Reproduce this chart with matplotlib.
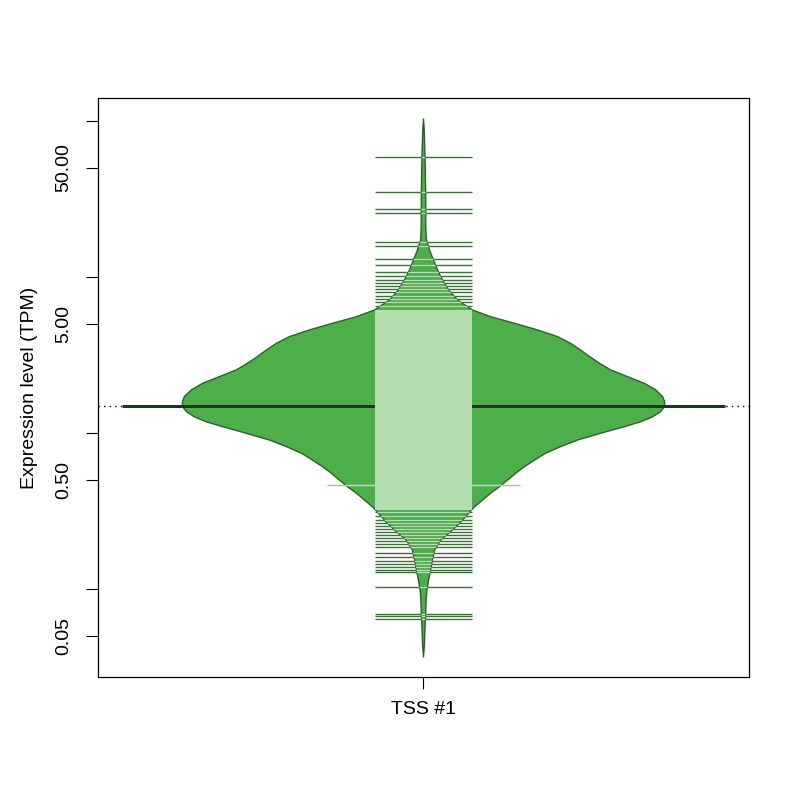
import numpy as np
import matplotlib.pyplot as plt
from matplotlib.patches import Polygon

plt.rcParams["font.family"] = ["Liberation Sans", "DejaVu Sans"]

# ---- data ----
group_label = "TSS #1"
average_tpm = 1.49

# bean outline: TPM level and half-width as share of the widest point
density_tpm = [103.1, 87.6, 70.2, 48.6, 33.6, 20.6, 17.3, 14.9, 12.9, 11.1,
               9.57, 8.26, 7.12, 6.15, 5.57, 5.05, 4.58, 4.15, 3.76, 3.41,
               3.09, 2.80, 2.54, 2.30, 2.08, 1.89, 1.71, 1.59, 1.48, 1.37,
               1.27, 1.18, 1.10, 0.996, 0.902, 0.818, 0.742, 0.672, 0.609,
               0.552, 0.500, 0.453, 0.411, 0.372, 0.337, 0.321, 0.277, 0.239,
               0.206, 0.178, 0.154, 0.132, 0.114, 0.0986, 0.0851, 0.0682,
               0.0546, 0.0438, 0.0367]
density_width = [0.0, 0.003, 0.005, 0.0075, 0.009, 0.0095, 0.012, 0.025, 0.041,
                 0.058, 0.079, 0.104, 0.141, 0.203, 0.278, 0.378, 0.473, 0.556,
                 0.610, 0.651, 0.689, 0.730, 0.776, 0.846, 0.917, 0.963, 0.992,
                 1.0, 1.0, 0.983, 0.950, 0.900, 0.834, 0.734, 0.639, 0.568,
                 0.506, 0.461, 0.419, 0.382, 0.349, 0.315, 0.278, 0.245, 0.212,
                 0.199, 0.162, 0.120, 0.071, 0.046, 0.037, 0.029, 0.021, 0.014,
                 0.011, 0.0087, 0.0058, 0.0037, 0.0]

# single observations (bean lines) in the tails
beanline_tpm = [58.8, 35.1, 27.2, 25.9, 16.8, 15.8, 13.0, 11.9, 10.8, 10.2,
                9.57, 9.16, 8.70, 8.32, 8.02, 7.61, 7.23, 6.87, 6.52,
                0.312, 0.294, 0.277, 0.265, 0.254, 0.243, 0.232, 0.222, 0.212,
                0.202, 0.194, 0.186, 0.170, 0.160, 0.151, 0.145, 0.138, 0.132,
                0.129, 0.1035, 0.0692, 0.0669, 0.0646]
# repeated observation (drawn with a longer line)
duplicate_tpm = [0.464]
# range where the bean lines are so dense they merge into a block
dense_band_tpm = (0.321, 6.15)

y_ticks = [0.05, 0.1, 0.5, 1, 5, 10, 50, 100]
y_tick_labels = ["0.05", "", "0.50", "", "5.00", "", "50.00", ""]

# ---- styling ----
fill_col = "#4DAF4A"
border_col = "#2F5E2D"
inner_line_col = "#B3DEB0"
outer_line_col = "#3B703A"
avg_col = "#1C381B"

max_hw = 0.4
line_hw = 0.08

fig = plt.figure(figsize=(8, 8), dpi=100)
ax = fig.add_axes([0.1225, 0.15375, 0.81375, 0.72375])
ax.set_yscale("log")

# overall average (dotted, full width)
ax.axhline(average_tpm, color="black", linestyle=(0, (1, 3)), linewidth=1, zorder=1)

# bean polygon
d_y = np.array(density_tpm)
d_w = np.array(density_width) * max_hw
xs = np.concatenate([1 + d_w, (1 - d_w)[::-1]])
ys = np.concatenate([d_y, d_y[::-1]])
bean = Polygon(np.column_stack([xs, ys]), closed=True, facecolor=fill_col,
               edgecolor=border_col, linewidth=1, joinstyle="round", zorder=2)
ax.add_patch(bean)

# bean average line
ax.plot([0.5, 1.5], [average_tpm, average_tpm], color=avg_col, linewidth=2.2,
        solid_capstyle="butt", zorder=3)

# bean lines: dark everywhere, light where inside the bean
clip = Polygon(np.column_stack([xs, ys]), closed=True, transform=ax.transData)

ax.fill_between([1 - line_hw, 1 + line_hw], dense_band_tpm[0], dense_band_tpm[1],
                color=outer_line_col, linewidth=0, zorder=4)
band = ax.fill_between([1 - line_hw, 1 + line_hw], dense_band_tpm[0], dense_band_tpm[1],
                       color=inner_line_col, linewidth=0, zorder=5)
band.set_clip_path(clip)

ax.hlines(beanline_tpm, 1 - line_hw, 1 + line_hw, color=outer_line_col,
          linewidth=1, zorder=4)
inner = ax.hlines(beanline_tpm, 1 - line_hw, 1 + line_hw, color=inner_line_col,
                  linewidth=1, zorder=5)
inner.set_clip_path(clip)

ax.hlines(duplicate_tpm, 1 - 2 * line_hw, 1 + 2 * line_hw, color="#9CC79A",
          linewidth=1, zorder=4)
dup_inner = ax.hlines(duplicate_tpm, 1 - 2 * line_hw, 1 + 2 * line_hw,
                      color=inner_line_col, linewidth=1, zorder=5)
dup_inner.set_clip_path(clip)

# axes
ax.set_xlim(0.46, 1.54)
ax.set_ylim(0.0273, 140.5)
ax.set_xticks([1])
ax.set_xticklabels([group_label], fontsize=14)
ax.set_yticks(y_ticks)
ax.set_yticklabels(y_tick_labels, fontsize=14, rotation=90, va="center")
ax.minorticks_off()
ax.tick_params(axis="both", length=8.6, width=0.8, direction="out")
ax.tick_params(axis="y", pad=10)
ax.tick_params(axis="x", pad=9)
ax.set_ylabel("Expression level (TPM)", fontsize=14, labelpad=12)
for s in ax.spines.values():
    s.set_linewidth(0.9)

fig.savefig("out.png", dpi=100)
